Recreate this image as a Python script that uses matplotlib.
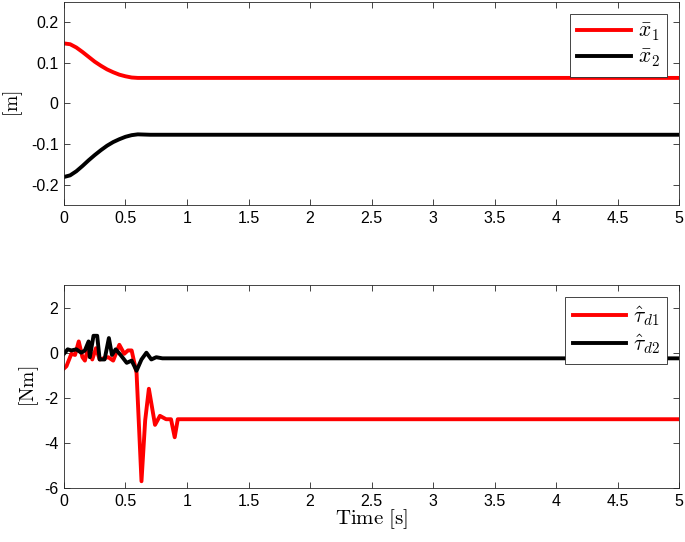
import numpy as np
import matplotlib
matplotlib.use("Agg")
import matplotlib.pyplot as plt

plt.rcParams['font.family'] = ['Liberation Sans', 'DejaVu Sans']
plt.rcParams['mathtext.fontset'] = 'cm'

# top panel: position states
t_x = [0, 0.05, 0.1, 0.15, 0.2, 0.25, 0.3, 0.35, 0.4, 0.45, 0.5, 0.55, 0.6,
       0.7, 1.0, 5.0]
x1 = [0.148, 0.146, 0.138, 0.127, 0.115, 0.103, 0.093, 0.084, 0.077, 0.071,
      0.067, 0.064, 0.063, 0.063, 0.063, 0.063]
x2 = [-0.181, -0.177, -0.167, -0.154, -0.140, -0.127, -0.115, -0.104, -0.095,
      -0.088, -0.082, -0.078, -0.076, -0.077, -0.077, -0.077]

# bottom panel: disturbance estimates
t_d1 = [0, 0.02, 0.06, 0.09, 0.12, 0.15, 0.17, 0.2, 0.23, 0.26, 0.29, 0.32, 0.36,
        0.4, 0.45, 0.49, 0.52, 0.55, 0.59, 0.63, 0.66, 0.69, 0.74, 0.78, 0.83,
        0.87, 0.9, 0.925, 1.0, 5.0]
d1 = [-0.7, -0.6, -0.05, -0.1, 0.5, -0.2, -0.35, 0.3, -0.3, 0.2, -0.3, -0.25, -0.2,
      -0.35, 0.35, -0.05, 0.1, 0.1, -0.9, -5.7, -3.0, -1.6, -3.2, -2.8, -2.95,
      -2.95, -3.75, -2.95, -2.95, -2.95]
t_d2 = [0, 0.03, 0.06, 0.1, 0.14, 0.17, 0.2, 0.21, 0.24, 0.27, 0.29, 0.33, 0.365,
        0.39, 0.42, 0.46, 0.51, 0.55, 0.59, 0.63, 0.67, 0.71, 0.75, 0.8, 1.0, 5.0]
d2 = [-0.05, 0.15, 0.1, 0.15, 0.0, 0.1, 0.5, -0.2, 0.75, 0.75, -0.3, -0.3, 0.65,
      -0.1, 0.15, -0.1, -0.45, -0.35, -0.8, -0.3, 0.0, -0.3, -0.2, -0.25, -0.25, -0.25]

fig = plt.figure(figsize=(6.85, 5.42), dpi=100)
ax1 = fig.add_axes([0.0934, 0.6218, 0.898, 0.3745])
ax2 = fig.add_axes([0.0934, 0.0996, 0.898, 0.3745])

ax1.plot(t_x, x1, color='#ff0000', lw=2.8, label=r'$\bar{x}_1$')
ax1.plot(t_x, x2, color='black', lw=2.8, label=r'$\bar{x}_2$')
ax1.set_ylim(-0.25, 0.25)
ax1.set_yticks([-0.2, -0.1, 0, 0.1, 0.2])
ax1.set_yticklabels(['-0.2', '-0.1', '0', '0.1', '0.2'])
ax1.set_ylabel(r'$[\mathrm{m}]$', fontsize=14, labelpad=4)

ax2.plot(t_d1, d1, color='#ff0000', lw=2.8, label=r'$\hat{\tau}_{d1}$')
ax2.plot(t_d2, d2, color='black', lw=2.8, label=r'$\hat{\tau}_{d2}$')
ax2.set_ylim(-6, 3)
ax2.set_yticks([-6, -4, -2, 0, 2])
ax2.set_yticklabels(['-6', '-4', '-2', '0', '2'])
ax2.set_ylabel(r'$[\mathrm{Nm}]$', fontsize=14, labelpad=2)
ax2.set_xlabel(r'$\mathrm{Time\ [s]}$', fontsize=15, labelpad=-1)

for ax in (ax1, ax2):
    ax.set_xlim(0, 5)
    ax.set_xticks(np.arange(0, 5.01, 0.5))
    ax.set_xticklabels(['0', '0.5', '1', '1.5', '2', '2.5', '3', '3.5', '4', '4.5', '5'])
    ax.tick_params(direction='in', top=True, right=True, labelsize=11.5,
                   color='#262626', length=4, width=0.6, pad=4)
    for s in ax.spines.values():
        s.set_color('#262626')
        s.set_linewidth(0.6)
    leg = ax.legend(loc='upper right', fontsize=15.5, fancybox=False, framealpha=1,
                    edgecolor='#262626', handlelength=2.5, borderaxespad=0.55,
                    borderpad=0.35, labelspacing=0.2, handletextpad=0.3)
    leg.get_frame().set_linewidth(0.6)

fig.savefig('out.png', dpi=100)
